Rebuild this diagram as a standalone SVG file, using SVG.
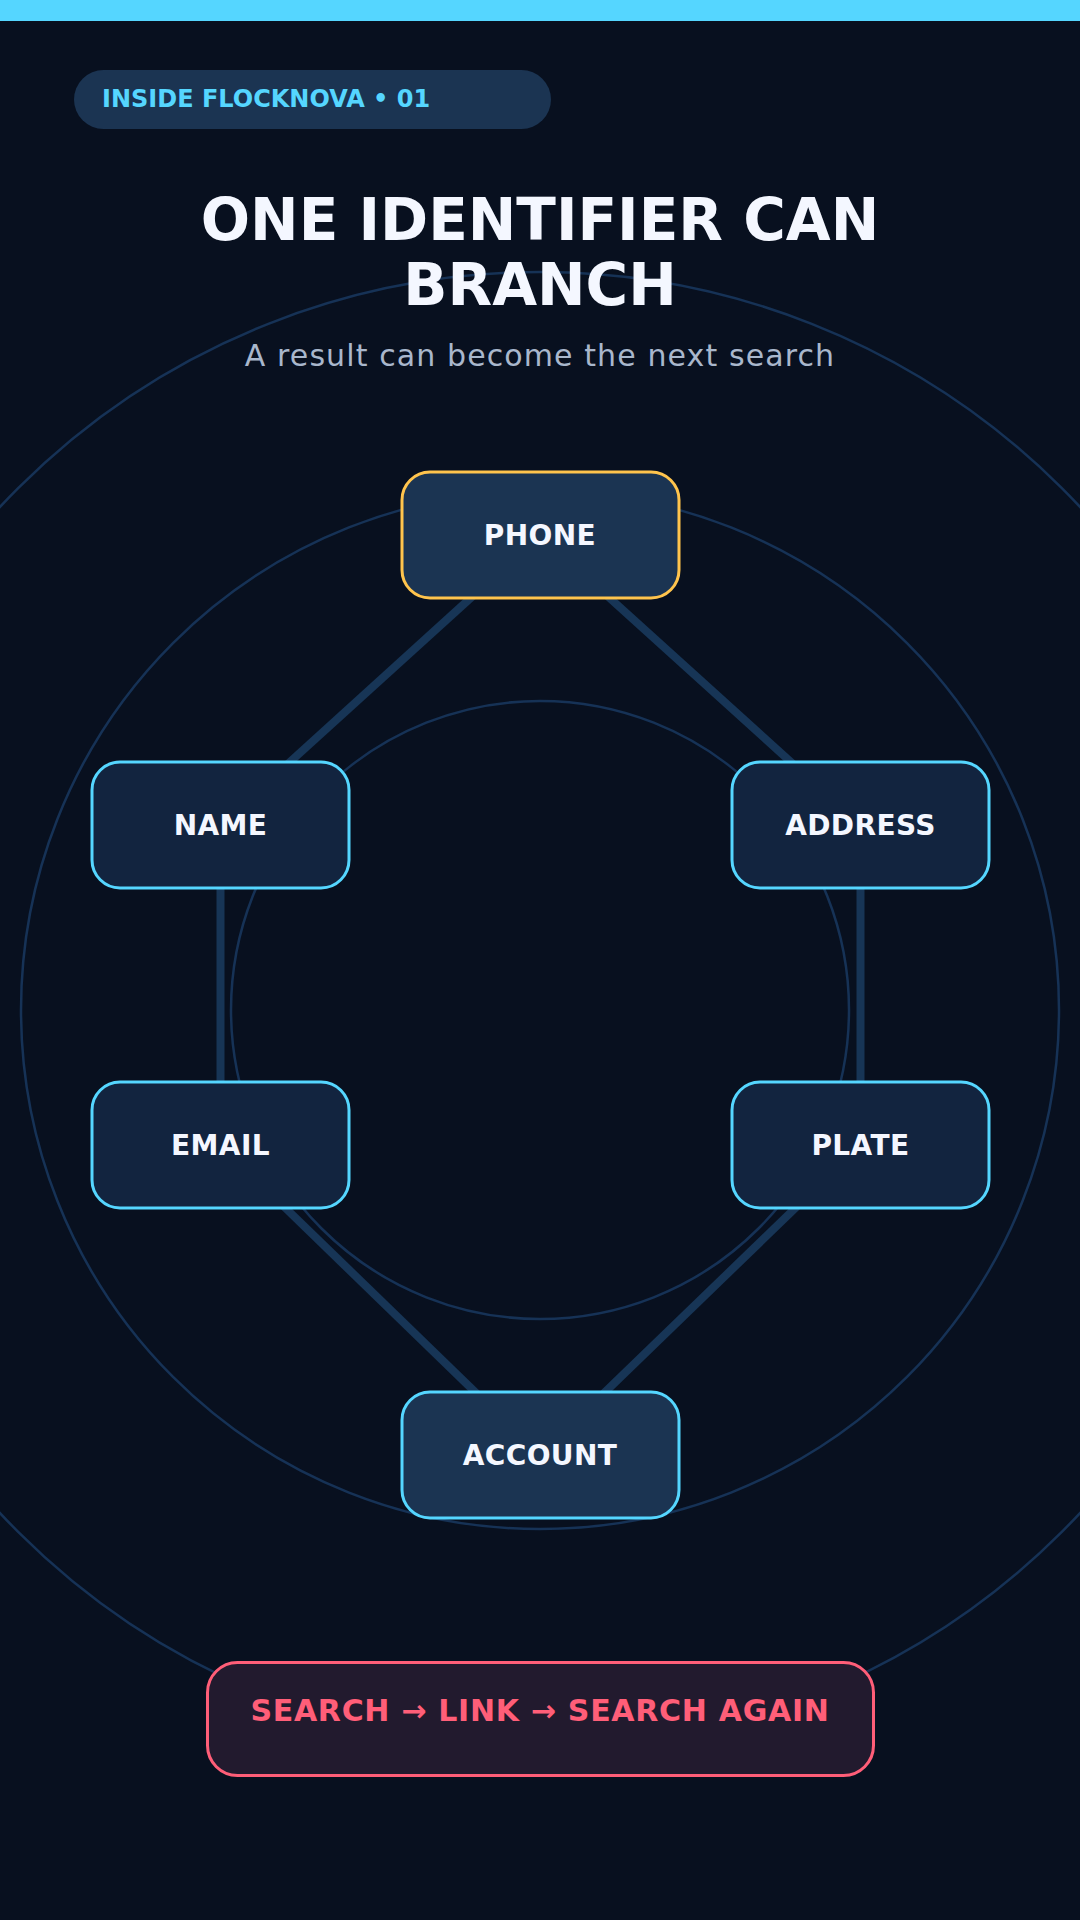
<svg xmlns="http://www.w3.org/2000/svg" width="1080" height="1920" viewBox="0 0 1080 1920">
<style>
.t{font-family:"DejaVu Sans","Liberation Sans",sans-serif;}
.ring{fill:none;stroke:#163256;stroke-width:2.5;}
.edge{stroke:#173556;stroke-width:8;stroke-linecap:butt;}
.node rect{stroke-width:3;}
.side rect{fill:#12243F;stroke:#55D6FF;}
.hub rect{fill:#1B3452;stroke:#55D6FF;}
.lbl{font-family:"DejaVu Sans","Liberation Sans",sans-serif;font-weight:bold;font-size:28px;fill:#F4F7FF;text-anchor:middle;letter-spacing:0.4px;}
</style>
<rect x="0" y="0" width="1080" height="1920" fill="#08101F"/>
<rect x="0" y="0" width="1080" height="21" fill="#55D6FF"/>
<g id="rings">
<circle class="ring" cx="540" cy="1010" r="309"/>
<circle class="ring" cx="540" cy="1010" r="519"/>
<circle class="ring" cx="540" cy="1010" r="738"/>
</g>
<g id="badge">
<rect x="74" y="70" width="477" height="59" rx="29.5" fill="#1B3452"/>
<text class="t" x="102" y="107" font-size="24" font-weight="bold" fill="#55D6FF">INSIDE FLOCKNOVA • 01</text>
</g>
<g id="title">
<text class="t" x="540" y="240" font-size="58" font-weight="bold" fill="#F4F7FF" text-anchor="middle">ONE IDENTIFIER CAN</text>
<text class="t" x="540" y="305" font-size="58" font-weight="bold" fill="#F4F7FF" text-anchor="middle">BRANCH</text>
<text class="t" x="540" y="366" font-size="30" fill="#A9B7CC" text-anchor="middle" letter-spacing="1.1">A result can become the next search</text>
</g>
<g id="connectors">
<line class="edge" x1="540" y1="535" x2="220.5" y2="825"/>
<line class="edge" x1="540" y1="535" x2="860.5" y2="825"/>
<line class="edge" x1="220.5" y1="825" x2="220.5" y2="1145"/>
<line class="edge" x1="860.5" y1="825" x2="860.5" y2="1145"/>
<line class="edge" x1="220.5" y1="1145" x2="540" y2="1455"/>
<line class="edge" x1="860.5" y1="1145" x2="540" y2="1455"/>
</g>
<g id="node-phone" class="node hub">
<rect x="402" y="472" width="277" height="126" rx="28" style="stroke:#FFC44D"/>
<text class="lbl" x="540" y="545">PHONE</text>
</g>
<g id="node-name" class="node side">
<rect x="92" y="762" width="257" height="126" rx="28"/>
<text class="lbl" x="220.5" y="835">NAME</text>
</g>
<g id="node-address" class="node side">
<rect x="732" y="762" width="257" height="126" rx="28"/>
<text class="lbl" x="860.5" y="835">ADDRESS</text>
</g>
<g id="node-email" class="node side">
<rect x="92" y="1082" width="257" height="126" rx="28"/>
<text class="lbl" x="220.5" y="1155">EMAIL</text>
</g>
<g id="node-plate" class="node side">
<rect x="732" y="1082" width="257" height="126" rx="28"/>
<text class="lbl" x="860.5" y="1155">PLATE</text>
</g>
<g id="node-account" class="node hub">
<rect x="402" y="1392" width="277" height="126" rx="28"/>
<text class="lbl" x="540" y="1465">ACCOUNT</text>
</g>
<g id="footer">
<rect x="207.5" y="1662.5" width="666" height="113" rx="30" fill="#221A2E" stroke="#FF5E78" stroke-width="3"/>
<text class="t" x="540" y="1721" font-size="30" font-weight="bold" fill="#FF5E78" text-anchor="middle" letter-spacing="0.7">SEARCH → LINK → SEARCH AGAIN</text>
</g>
</svg>
